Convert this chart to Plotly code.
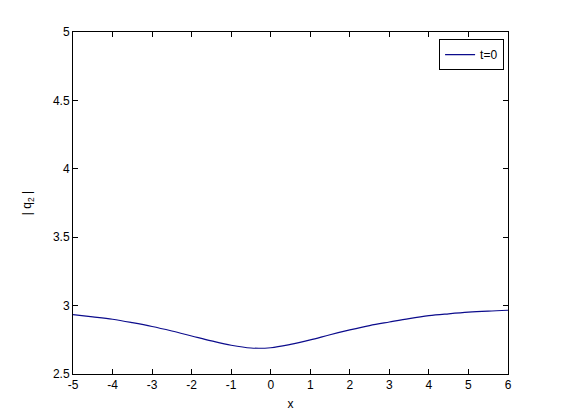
import plotly.graph_objs as go

# curve, |q2| at t=0
x_vals = [-5, -4.5, -4, -3.5, -3, -2.5, -2, -1.5, -1, -0.5, 0, 0.5,
          1, 1.5, 2, 2.5, 3, 3.5, 4, 4.5, 5, 5.5, 6]
q2_abs = [2.934, 2.918, 2.900, 2.875, 2.847, 2.814, 2.778, 2.742, 2.710, 2.690,
          2.692, 2.716, 2.749, 2.787, 2.822, 2.854, 2.880, 2.905, 2.926, 2.940,
          2.952, 2.960, 2.966]

x_ticks = list(range(-5, 7))
x_tick_text = ["-5", "-4", "-3", "-2", "-1", "0", "1", "2", "3", "4", "5", "6"]
y_ticks = [2.5, 3, 3.5, 4, 4.5, 5]
y_tick_text = ["2.5", "3", "3.5", "4", "4.5", "5"]

fig = go.Figure()
fig.add_trace(go.Scatter(x=x_vals, y=q2_abs, mode="lines", name="t=0",
                         line=dict(color="#0b0b8c", width=1.2, shape="spline")))

axis_style = dict(showline=True, linecolor="black", linewidth=1, mirror="ticks",
                  ticks="inside", ticklen=5, tickcolor="black", showgrid=False,
                  zeroline=False, tickfont=dict(size=12, color="black"))

# page body has an 8px margin, so the figure is a bit smaller than the window
fig.update_layout(
    width=553, height=412,
    paper_bgcolor="white", plot_bgcolor="white",
    font=dict(family="Liberation Sans, Arial", size=12, color="black"),
    margin=dict(l=65, r=53, t=24, b=46),
    showlegend=True,
    legend=dict(x=0.991, y=0.979, xanchor="right", yanchor="top",
                bordercolor="black", borderwidth=1, bgcolor="white",
                font=dict(size=12), itemwidth=30),
    xaxis=dict(range=[-5, 6], tickvals=x_ticks, ticktext=x_tick_text,
               title=dict(text="x", standoff=8, font=dict(size=12)), **axis_style),
    yaxis=dict(range=[2.5, 5], tickvals=y_ticks, ticktext=y_tick_text,
               title=dict(text="| q<sub>2</sub> |", standoff=18, font=dict(size=12)),
               **axis_style),
)

fig.write_html("out.html")
